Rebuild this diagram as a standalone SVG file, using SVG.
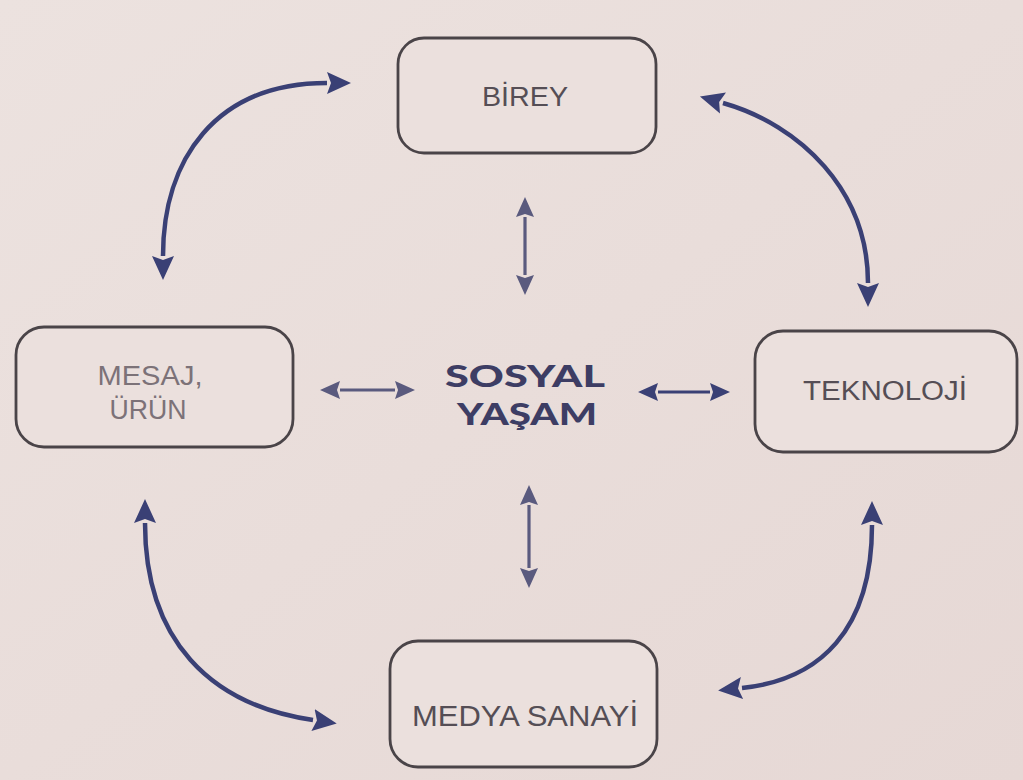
<svg xmlns="http://www.w3.org/2000/svg" width="1023" height="780" viewBox="0 0 1023 780">
<style>
.box{fill:#ebe0dd;stroke:#4a4448;stroke-width:2.8}
.lbl{font-family:"Liberation Sans",Arial,sans-serif;font-size:27px;fill:#554e55}
.big{font-family:Lato,"DejaVu Sans",sans-serif;font-weight:900;font-size:31px;fill:#3d3d64}
.arc{fill:none;stroke:#3a4075;stroke-width:4.5}
.st{fill:none;stroke:#5a5a7e;stroke-width:3.2}
</style>
<defs>
<linearGradient id="bg" x1="0" y1="0" x2="1" y2="1">
<stop offset="0" stop-color="#ece2df"/>
<stop offset="1" stop-color="#e6d8d5"/>
</linearGradient>
<marker id="ha" markerUnits="userSpaceOnUse" markerWidth="24" markerHeight="24" refX="0" refY="12" orient="auto-start-reverse" viewBox="0 0 24 24">
<path d="M0,1 L24,12 L0,23 L4,12 z" fill="#3a4075"/>
</marker>
<marker id="hs" markerUnits="userSpaceOnUse" markerWidth="20" markerHeight="18" refX="0" refY="9" orient="auto-start-reverse" viewBox="0 0 20 18">
<path d="M0,0 L20,9 L0,18 L3,9 z" fill="#5a5a7e"/>
</marker>
<marker id="hn" markerUnits="userSpaceOnUse" markerWidth="20" markerHeight="18" refX="0" refY="9" orient="auto-start-reverse" viewBox="0 0 20 18">
<path d="M0,0 L20,9 L0,18 L3,9 z" fill="#3a4075"/>
</marker>
</defs>
<rect x="0" y="0" width="1023" height="780" fill="url(#bg)"/>
<g id="birey">
<rect class="box" x="398" y="38" width="258" height="115" rx="26"/>
<text class="lbl" x="525" y="106" text-anchor="middle" textLength="86" lengthAdjust="spacingAndGlyphs">BİREY</text>
</g>
<g id="mesaj">
<rect class="box" x="16" y="327" width="277" height="120" rx="28"/>
<text class="lbl" x="150" y="385" text-anchor="middle" textLength="105" lengthAdjust="spacingAndGlyphs" style="fill:#7c7278">MESAJ,</text>
<text class="lbl" x="148" y="419" text-anchor="middle" textLength="77" lengthAdjust="spacingAndGlyphs" style="fill:#7c7278">ÜRÜN</text>
</g>
<g id="teknoloji">
<rect class="box" x="755" y="331" width="262" height="121" rx="28"/>
<text class="lbl" x="885" y="400" text-anchor="middle" textLength="164" lengthAdjust="spacingAndGlyphs">TEKNOLOJİ</text>
</g>
<g id="medya">
<rect class="box" x="390" y="641" width="267" height="126" rx="28"/>
<text class="lbl" x="525" y="726" text-anchor="middle" textLength="226" lengthAdjust="spacingAndGlyphs" style="font-size:29px">MEDYA SANAYİ</text>
</g>
<g id="sosyal">
<text class="big" x="525" y="387" text-anchor="middle" textLength="160" lengthAdjust="spacingAndGlyphs">SOSYAL</text>
<text class="big" x="527" y="425" text-anchor="middle" textLength="140" lengthAdjust="spacingAndGlyphs">YAŞAM</text>
</g>
<g id="connectors">
<path class="arc" d="M163,256 C163,160 215,83 327,83" marker-start="url(#ha)" marker-end="url(#ha)"/>
<path class="arc" d="M723,103 C800,125 868,190 868,283" marker-start="url(#ha)" marker-end="url(#ha)"/>
<path class="arc" d="M145,523 C145,640 210,705 313,720" marker-start="url(#ha)" marker-end="url(#ha)"/>
<path class="arc" d="M872,525 C872,630 820,680 742,688" marker-start="url(#ha)" marker-end="url(#ha)"/>
<path class="st" d="M525,217 L525,275" marker-start="url(#hs)" marker-end="url(#hs)"/>
<path class="st" d="M529,505 L529,568" marker-start="url(#hs)" marker-end="url(#hs)"/>
<path class="st" d="M340,390 L395,390" marker-start="url(#hs)" marker-end="url(#hs)"/>
<path class="st" style="stroke:#3a4075" d="M658,392 L710,392" marker-start="url(#hn)" marker-end="url(#hn)"/>
</g>
</svg>
